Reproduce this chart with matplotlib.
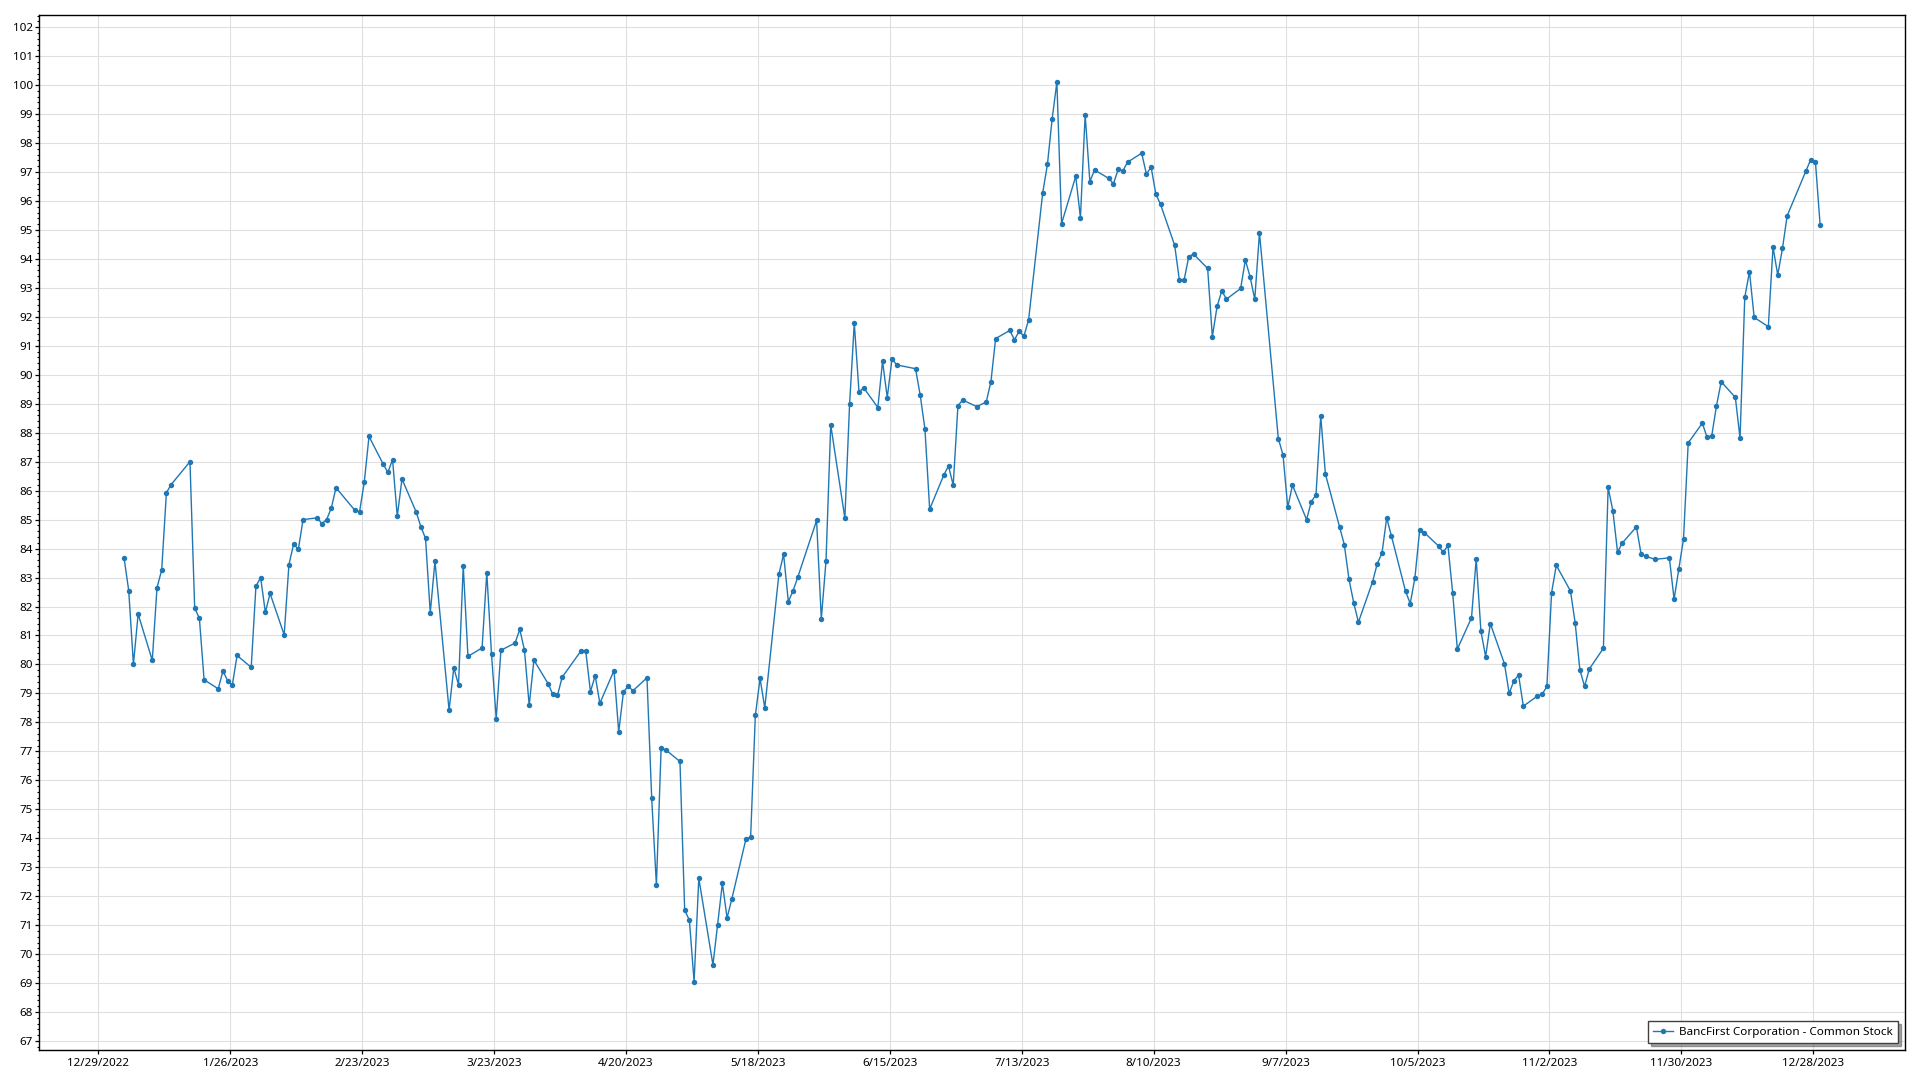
import datetime as dt
import matplotlib
matplotlib.use("Agg")
import matplotlib.pyplot as plt
import matplotlib.dates as mdates
from matplotlib.ticker import MultipleLocator, FuncFormatter

# ---- data: trading days of 2023 (day of month) and closing prices ----
jan_days = [3, 4, 5, 6, 9, 10, 11, 12, 13, 17, 18, 19, 20, 23, 24, 25, 26, 27, 30, 31]
jan_vals = [83.69, 82.55, 80.01, 81.74, 80.14, 82.65, 83.26, 85.93, 86.21, 87.00,
            81.95, 81.59, 79.47, 79.16, 79.77, 79.44, 79.30, 80.31, 79.90, 82.70]
feb_days = [1, 2, 3, 6, 7, 8, 9, 10, 13, 14, 15, 16, 17, 21, 22, 23, 24, 27, 28]
feb_vals = [83.00, 81.80, 82.45, 81.02, 83.44, 84.16, 83.97, 85.00, 85.06, 84.86,
            85.00, 85.40, 86.10, 85.32, 85.27, 86.30, 87.87, 86.92, 86.63]
mar_days = [1, 2, 3, 6, 7, 8, 9, 10, 13, 14, 15, 16, 17, 20, 21, 22, 23, 24, 27, 28, 29, 30, 31]
mar_vals = [87.07, 85.11, 86.40, 85.27, 84.76, 84.35, 81.78, 83.56, 78.42, 79.88, 79.30, 83.41,
            80.28, 80.57, 83.17, 80.35, 78.13, 80.49, 80.74, 81.21, 80.49, 78.59, 80.15]
apr_days = [3, 4, 5, 6, 10, 11, 12, 13, 14, 17, 18, 19, 20, 21, 24, 25, 26, 27, 28]
apr_vals = [79.34, 78.97, 78.93, 79.56, 80.47, 80.47, 79.06, 79.61, 78.66, 79.79,
            77.67, 79.04, 79.26, 79.09, 79.54, 75.38, 72.39, 77.10, 77.05]
may_days = [1, 2, 3, 4, 5, 8, 9, 10, 11, 12, 15, 16, 17, 18, 19, 22, 23, 24, 25, 26, 30, 31]
may_vals = [76.65, 71.52, 71.17, 69.05, 72.62, 69.63, 71.02, 72.44, 71.25, 71.90, 73.97,
            74.04, 78.24, 79.52, 78.50, 83.12, 83.80, 82.17, 82.54, 83.01, 84.97, 81.57]
jun_days = [1, 2, 5, 6, 7, 8, 9, 12, 13, 14, 15, 16, 20, 21, 22, 23, 26, 27, 28, 29, 30]
jun_vals = [83.58, 88.27, 85.05, 88.98, 91.78, 89.41, 89.55, 88.87, 90.46, 89.21, 90.55,
            90.34, 90.21, 89.29, 88.12, 85.36, 86.54, 86.85, 86.19, 88.93, 89.13]
jul_days = [3, 5, 6, 7, 10, 11, 12, 13, 14, 17, 18, 19, 20, 21, 24, 25, 26, 27, 28, 31]
jul_vals = [88.90, 89.06, 89.76, 91.25, 91.53, 91.21, 91.50, 91.33, 91.90, 96.29,
            97.27, 98.84, 100.10, 95.22, 96.85, 95.42, 98.98, 96.67, 97.07, 96.78]
aug_days = [1, 2, 3, 4, 7, 8, 9, 10, 11, 14, 15, 16, 17, 18, 21, 22, 23, 24, 25, 28, 29, 30, 31]
aug_vals = [96.59, 97.09, 97.04, 97.34, 97.65, 96.93, 97.17, 96.24, 95.88, 94.47, 93.27, 93.27,
            94.08, 94.17, 93.67, 91.31, 92.36, 92.90, 92.61, 92.98, 93.96, 93.39, 92.60]
sep_days = [1, 5, 6, 7, 8, 11, 12, 13, 14, 15, 18, 19, 20, 21, 22, 25, 26, 27, 28, 29]
sep_vals = [94.90, 87.80, 87.23, 85.42, 86.19, 85.00, 85.62, 85.86, 88.57, 86.57,
            84.75, 84.14, 82.94, 82.13, 81.46, 82.85, 83.48, 83.84, 85.06, 84.44]
oct_days = [2, 3, 4, 5, 6, 9, 10, 11, 12, 13, 16, 17, 18, 19, 20, 23, 24, 25, 26, 27, 30, 31]
oct_vals = [82.53, 82.10, 83.00, 84.64, 84.55, 84.09, 83.87, 84.11, 82.48, 80.53, 81.61,
            83.64, 81.15, 80.27, 81.41, 80.02, 79.00, 79.44, 79.63, 78.56, 78.91, 78.97]
nov_days = [1, 2, 3, 6, 7, 8, 9, 10, 13, 14, 15, 16, 17, 20, 21, 22, 24, 27, 28, 29, 30]
nov_vals = [79.24, 82.48, 83.42, 82.54, 81.44, 79.82, 79.24, 79.84, 80.56, 86.11, 85.31,
            83.88, 84.19, 84.75, 83.81, 83.73, 83.63, 83.68, 82.25, 83.28, 84.33]
dec_days = [1, 4, 5, 6, 7, 8, 11, 12, 13, 14, 15, 18, 19, 20, 21, 22, 26, 27, 28, 29]
dec_vals = [87.65, 88.33, 87.84, 87.90, 88.93, 89.76, 89.22, 87.81, 92.67, 93.56,
            91.98, 91.66, 94.41, 93.44, 94.36, 95.49, 97.04, 97.43, 97.35, 95.17]

series_label = "BancFirst Corporation - Common Stock"
year = 2023

month_data = [(1, jan_days, jan_vals), (2, feb_days, feb_vals), (3, mar_days, mar_vals),
              (4, apr_days, apr_vals), (5, may_days, may_vals), (6, jun_days, jun_vals),
              (7, jul_days, jul_vals), (8, aug_days, aug_vals), (9, sep_days, sep_vals),
              (10, oct_days, oct_vals), (11, nov_days, nov_vals), (12, dec_days, dec_vals)]

dates, prices = [], []
for m, ds, vs in month_data:
    for d, v in zip(ds, vs):
        dates.append(dt.datetime(year, m, d, 11, 0))
        prices.append(v)

plt.rcParams["font.family"] = ["Noto Sans", "DejaVu Sans"]

fig = plt.figure(figsize=(19.2, 10.8), dpi=100, facecolor="white")
ax = fig.add_axes([39.3 / 1920, 1 - 1050 / 1080, (1905 - 39.3) / 1920, (1050 - 15) / 1080])
ax.set_facecolor("white")

ax.plot(dates, prices, color="#1f77b4", lw=1.0, marker="o", ms=3.9,
        markeredgewidth=0, label=series_label, zorder=3)

tick_start = dt.datetime(2022, 12, 29)
xticks = [tick_start + dt.timedelta(days=28 * i) for i in range(14)]
ax.set_xticks(xticks)
ax.xaxis.set_major_formatter(FuncFormatter(
    lambda x, pos: (lambda d: f"{d.month}/{d.day}/{d.year}")(mdates.num2date(x))))
ax.set_xlim(tick_start - dt.timedelta(days=12.52), tick_start + dt.timedelta(days=383.47))

ax.set_ylim(66.69, 102.42)
ax.yaxis.set_major_locator(MultipleLocator(1))
ax.yaxis.set_minor_locator(MultipleLocator(0.2))

ax.grid(True, which="major", color="#dfdfdf", lw=0.8)
ax.set_axisbelow(True)

ax.tick_params(axis="both", which="major", labelsize=8.4, length=3.2, width=0.9,
               color="black", labelcolor="black")
ax.tick_params(axis="y", which="major", pad=1.5)
ax.tick_params(axis="x", which="major", pad=2.5)
ax.tick_params(axis="y", which="minor", length=1.8, width=0.8, color="black")
for s in ax.spines.values():
    s.set_color("black")
    s.set_linewidth(1.0)

leg = ax.legend(loc="lower right", fontsize=8.4, frameon=True, fancybox=False,
                shadow=True, edgecolor="#404040", borderaxespad=0.6,
                borderpad=0.45, handlelength=1.7, handletextpad=0.5, framealpha=1)
leg.get_frame().set_linewidth(1.0)

fig.savefig("out.png", dpi=100, facecolor="white")
